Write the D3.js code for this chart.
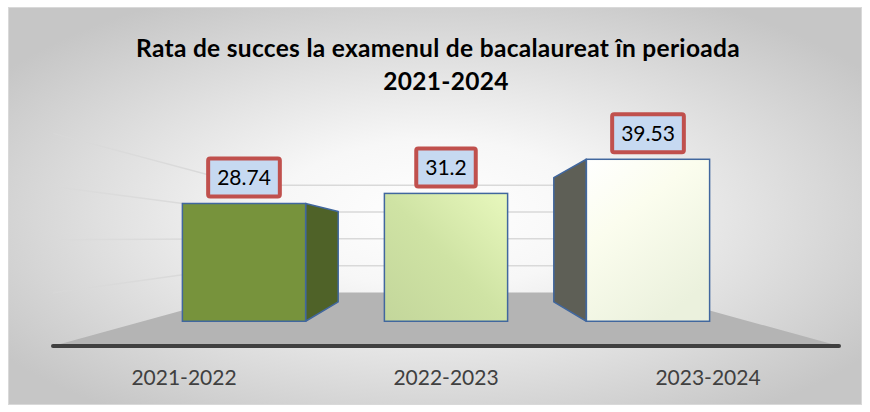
<!DOCTYPE html>
<html>
<head>
<meta charset="utf-8">
<script src="https://cdn.jsdelivr.net/npm/d3@7"></script>
<style>
  html, body { margin: 0; padding: 0; background: #fff; }
  svg { display: block; }
</style>
</head>
<body>
<svg id="chart" width="870" height="412"></svg>
<script>
// chart data
const categories = ["2021-2022", "2022-2023", "2023-2024"];
const values = [28.74, 31.2, 39.53];
const valueLabels = ["28.74", "31.2", "39.53"];
const gridTicks = [10, 20, 30, 40];
const titleLines = ["Rata de succes la examenul de bacalaureat în perioada", "2021-2024"];

// styles per bar
const frontFill = ["#77933c", "url(#g-bar2)", "url(#g-bar3)"];
const sideFill = ["#4f6228", "#9bbb59", "#5e5f56"];

const width = 870, height = 412;
const svg = d3.select("#chart");

// perspective: vanishing point + depth factors (1 = front of floor)
const vp = { x: 446, y: 238 };
const depth = { floor: 1, barFront: 0.771, barBack: 0.592, wall: 0.505 };
const proj = (X, Y, s) => [vp.x + (X - vp.x) * s, vp.y + (Y - vp.y) * s];

const x = d3.scaleBand().domain(categories).range([53, 839]).padding(0);
const y = d3.scaleLinear().domain([0, 40]).range([346, 133.4]);
const barW = x.bandwidth() * 0.61;

const defs = svg.append("defs");

const bg = defs.append("radialGradient").attr("id", "g-bg")
    .attr("cx", "50%").attr("cy", "52%").attr("r", "62%");
bg.append("stop").attr("offset", 0).attr("stop-color", "#ffffff");
bg.append("stop").attr("offset", 0.3).attr("stop-color", "#f7f7f7");
bg.append("stop").attr("offset", 1).attr("stop-color", "#c6c6c6");

const g2 = defs.append("linearGradient").attr("id", "g-bar2")
    .attr("x1", 0).attr("y1", 1).attr("x2", 1).attr("y2", 0);
g2.append("stop").attr("offset", 0).attr("stop-color", "#c3d69b");
g2.append("stop").attr("offset", 0.5).attr("stop-color", "#cfe3a4");
g2.append("stop").attr("offset", 1).attr("stop-color", "#e8f8bd");

const g3 = defs.append("linearGradient").attr("id", "g-bar3")
    .attr("x1", 0).attr("y1", 0).attr("x2", 0.6).attr("y2", 1);
g3.append("stop").attr("offset", 0).attr("stop-color", "#ffffff");
g3.append("stop").attr("offset", 0.4).attr("stop-color", "#fbfdee");
g3.append("stop").attr("offset", 1).attr("stop-color", "#ebf1dd");

const wallL = proj(x.range()[0], 0, depth.wall)[0];
const fade = defs.append("linearGradient").attr("id", "g-fade")
    .attr("gradientUnits", "userSpaceOnUse")
    .attr("x1", x.range()[0]).attr("x2", wallL).attr("y1", 0).attr("y2", 0);
fade.append("stop").attr("offset", 0).attr("stop-color", "#d9d9d9").attr("stop-opacity", 0.5);
fade.append("stop").attr("offset", 1).attr("stop-color", "#d6d6d6").attr("stop-opacity", 1);

// chart area
svg.append("rect")
    .attr("x", 8.5).attr("y", 7.5).attr("width", 853).attr("height", 397)
    .attr("fill", "url(#g-bg)").attr("stroke", "#d9d9d9");

const [X0, X1] = x.range();
const line = d3.line();

// floor
const floorPts = [proj(X0, y(0), depth.floor), proj(X1, y(0), depth.floor),
                  proj(X1, y(0), depth.wall), proj(X0, y(0), depth.wall)];
svg.append("path").attr("d", line(floorPts) + "Z").attr("fill", "#b4b4b4");

// gridlines: left wall + back wall
const grid = svg.append("g");
grid.selectAll(".left").data(gridTicks).join("path")
    .attr("class", "left")
    .attr("d", t => line([proj(X0, y(t), depth.floor), proj(X0, y(t), depth.wall)]))
    .attr("stroke", "url(#g-fade)").attr("stroke-width", 1.5).attr("fill", "none");
grid.selectAll(".back").data(gridTicks).join("path")
    .attr("class", "back")
    .attr("d", t => line([proj(X0, y(t), depth.wall), proj(X1, y(t), depth.wall)]))
    .attr("stroke", "#d9d9d9").attr("stroke-width", 1.5).attr("fill", "none");

// floor front edge
svg.append("line")
    .attr("x1", X0).attr("x2", X1).attr("y1", y(0)).attr("y2", y(0))
    .attr("stroke", "#404040").attr("stroke-width", 4).attr("stroke-linecap", "round");

// bars
const bars = svg.append("g");
values.forEach((v, i) => {
    const a = x(categories[i]) + (x.bandwidth() - barW) / 2, b = a + barW;
    const top = y(v), bot = y(0);
    const g = bars.append("g");
    let sideX = null;
    if (b < vp.x && proj(b, top, depth.barBack)[0] > proj(b, top, depth.barFront)[0]) sideX = b;
    if (a > vp.x && proj(a, top, depth.barBack)[0] < proj(a, top, depth.barFront)[0]) sideX = a;
    if (sideX !== null) {
        g.append("path")
            .attr("d", line([proj(sideX, top, depth.barFront), proj(sideX, top, depth.barBack),
                             proj(sideX, bot, depth.barBack), proj(sideX, bot, depth.barFront)]) + "Z")
            .attr("fill", sideFill[i]).attr("stroke", "#41679e").attr("stroke-width", 1.5)
            .attr("stroke-linejoin", "round");
    }
    const p0 = proj(a, top, depth.barFront), p1 = proj(b, bot, depth.barFront);
    g.append("rect")
        .attr("x", p0[0]).attr("y", p0[1])
        .attr("width", p1[0] - p0[0]).attr("height", p1[1] - p0[1])
        .attr("fill", frontFill[i]).attr("stroke", "#41679e").attr("stroke-width", 1.5);

    // value label box
    const cx = (p0[0] + p1[0]) / 2;
    const lab = g.append("g");
    const box = lab.append("rect");
    const txt = lab.append("text")
        .attr("x", cx).attr("y", p0[1] - 18)
        .attr("text-anchor", "middle")
        .attr("font-family", "Lato, 'Open Sans', sans-serif")
        .attr("font-size", 21).attr("fill", "#000")
        .text(valueLabels[i]);
    const tw = txt.node().getComputedTextLength();
    box.attr("x", cx - tw / 2 - 9).attr("y", p0[1] - 5 - 40)
        .attr("width", tw + 18).attr("height", 38).attr("rx", 2)
        .attr("fill", "#c6d9f1").attr("stroke", "#c0504d").attr("stroke-width", 4);
});

// category labels
svg.append("g").selectAll("text").data(categories).join("text")
    .attr("x", d => x(d) + x.bandwidth() / 2)
    .attr("y", 385)
    .attr("text-anchor", "middle")
    .attr("font-family", "Lato, 'Open Sans', sans-serif")
    .attr("font-size", 21).attr("fill", "#404040")
    .text(d => d);

// title
svg.append("g").selectAll("text").data(titleLines).join("text")
    .attr("x", (d, i) => i ? 446 : 438)
    .attr("y", (d, i) => 57 + i * 33)
    .attr("text-anchor", "middle")
    .attr("font-family", "Lato, 'Open Sans', sans-serif")
    .attr("font-weight", "bold")
    .attr("font-size", 24.5).attr("letter-spacing", 0.3).attr("fill", "#000")
    .text(d => d);
</script>
</body>
</html>
